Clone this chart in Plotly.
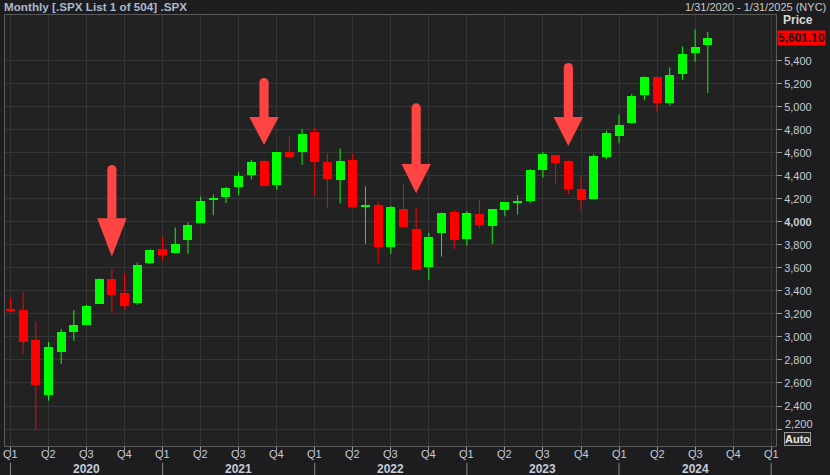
import plotly.graph_objects as go

# ---- data (monthly S&P 500 candles, Jan 2020 .. Aug 2024) ----
months = ["2020-01","2020-02","2020-03","2020-04","2020-05","2020-06","2020-07","2020-08","2020-09","2020-10","2020-11","2020-12",
          "2021-01","2021-02","2021-03","2021-04","2021-05","2021-06","2021-07","2021-08","2021-09","2021-10","2021-11","2021-12",
          "2022-01","2022-02","2022-03","2022-04","2022-05","2022-06","2022-07","2022-08","2022-09","2022-10","2022-11","2022-12",
          "2023-01","2023-02","2023-03","2023-04","2023-05","2023-06","2023-07","2023-08","2023-09","2023-10","2023-11","2023-12",
          "2024-01","2024-02","2024-03","2024-04","2024-05","2024-06","2024-07","2024-08"]
opens = [3244.7,3235.7,2974.3,2498.1,2869.1,3038.8,3105.9,3288.3,3507.4,3385.9,3296.2,3645.9,
         3764.6,3731.2,3842.5,3992.8,4192.0,4216.5,4300.7,4406.9,4528.8,4317.2,4610.6,4602.8,
         4778.1,4519.6,4363.1,4540.3,4130.6,4149.8,3781.0,4112.4,3936.7,3609.8,3901.8,4087.1,
         3853.3,4070.1,3963.3,4102.2,4166.8,4183.0,4450.5,4578.8,4530.6,4284.5,4201.3,4559.4,
         4745.2,4861.1,5098.5,5258.0,5029.0,5283.4,5471.1,5537.8]
highs = [3337.8,3393.5,3136.7,2954.9,3068.7,3233.1,3280.0,3509.2,3588.1,3549.9,3646.0,3760.2,
         3870.9,3950.4,3994.4,4218.8,4238.0,4302.4,4430.0,4537.4,4545.9,4608.1,4743.8,4808.9,
         4818.6,4595.3,4637.3,4593.5,4307.7,4177.5,4140.2,4325.3,4119.3,3905.4,4080.1,4101.0,
         4094.2,4195.4,4110.8,4170.1,4231.1,4458.5,4607.1,4584.6,4541.3,4393.6,4587.6,4793.3,
         4931.1,5111.1,5264.9,5264.0,5341.9,5523.6,5669.7,5651.6]
lows = [3214.6,2855.8,2191.9,2447.5,2766.6,2965.7,3101.2,3284.5,3209.5,3233.9,3279.7,3633.4,
        3662.7,3725.6,3723.3,3992.8,4056.9,4164.4,4233.1,4367.7,4305.9,4278.9,4560.0,4495.1,
        4222.6,4114.7,4157.9,4124.3,3810.3,3636.9,3721.6,3954.5,3584.1,3491.6,3698.2,3764.5,
        3794.3,3943.1,3808.9,4048.3,4063.0,4166.2,4385.1,4335.3,4238.6,4103.8,4197.7,4546.5,
        4682.1,4853.5,5056.8,4953.6,5011.1,5234.3,5391.0,5119.3]
closes = [3225.5,2954.2,2584.6,2912.4,3044.3,3100.3,3271.1,3500.3,3363.0,3270.0,3621.6,3756.1,
          3714.2,3811.2,3972.9,4181.2,4204.1,4297.5,4395.3,4522.7,4307.5,4605.4,4567.0,4766.2,
          4515.6,4373.9,4530.4,4131.9,4132.2,3785.4,4130.3,3955.0,3585.6,3872.0,4080.1,3839.5,
          4076.6,3970.2,4109.3,4169.5,4179.8,4450.4,4589.0,4507.7,4288.1,4193.8,4567.8,4769.8,
          4845.7,5096.3,5254.4,5035.7,5277.5,5460.5,5522.3,5601.1]
last_price = 5601.10

price_ticks = list(range(2200, 5401, 200))
quarter_ticks = list(range(0, 61, 3))
quarter_labels = ["Q1", "Q2", "Q3", "Q4"]
years = ["2020", "2021", "2022", "2023", "2024"]

# arrow annotations: (month index, tip price, head-base price, shaft-top price)
arrows = [(8, 3697, 4031, 4494), (20, 4668, 4911, 5250), (32, 4248, 4502, 5030), (44, 4659, 4911, 5380)]

UP, DOWN = "#00ff00", "#ff0000"
BODY_W = 0.71

idx = list(range(len(months)))
fig = go.Figure()

for up, col in ((True, UP), (False, DOWN)):
    sel = [i for i in idx if (closes[i] >= opens[i]) == up]
    wx, wy = [], []
    for i in sel:
        wx += [i, i, None]
        wy += [lows[i], highs[i], None]
    fig.add_trace(go.Scatter(x=wx, y=wy, mode="lines", line=dict(color=col, width=1),
                             hoverinfo="skip", showlegend=False))
    base = [min(opens[i], closes[i]) for i in sel]
    hgt = [max(abs(closes[i] - opens[i]), 10) for i in sel]
    fig.add_trace(go.Bar(x=sel, y=hgt, base=base, width=BODY_W, marker=dict(color=col, line=dict(width=0)),
                         hoverinfo="skip", showlegend=False))

shapes = []
ARW = "#ff4444"
SHAFT_HW, HEAD_HW, CAP_R = 0.36, 1.16, 40
for (xi, tip, hb, top) in arrows:
    shapes.append(dict(type="path", xref="x", yref="y", line=dict(width=0), fillcolor=ARW,
                       path=f"M {xi-HEAD_HW} {hb} L {xi+HEAD_HW} {hb} L {xi} {tip} Z"))
    shapes.append(dict(type="rect", xref="x", yref="y", line=dict(width=0), fillcolor=ARW,
                       x0=xi-SHAFT_HW, x1=xi+SHAFT_HW, y0=hb-2, y1=top-CAP_R))
    shapes.append(dict(type="circle", xref="x", yref="y", line=dict(width=0), fillcolor=ARW,
                       x0=xi-SHAFT_HW, x1=xi+SHAFT_HW, y0=top-2*CAP_R, y1=top))

# year separators below x-axis
for k in range(len(years) + 1):
    shapes.append(dict(type="line", xref="x", yref="paper", x0=12*k, x1=12*k, y0=-0.039, y1=-0.07,
                       line=dict(color="#8a8a8a", width=1)))

FONT = "Liberation Sans, Arial, sans-serif"
TXT = "#c4ccd8"
annotations = []
for t in quarter_ticks:
    annotations.append(dict(x=t, xref="x", y=-0.0175, yref="paper", text=quarter_labels[(t // 3) % 4],
                            showarrow=False, font=dict(family=FONT, size=11, color=TXT), yanchor="middle"))
for k, yr in enumerate(years):
    annotations.append(dict(x=6 + 12*k, xref="x", y=-0.053, yref="paper", text=f"<b>{yr}</b>",
                            showarrow=False, font=dict(family=FONT, size=12, color=TXT), yanchor="middle"))
# lowest price label sits a little higher (above the Auto box), as in the source
annotations.append(dict(x=1.0, xref="paper", y=price_ticks[0], yref="y", yshift=5, xanchor="left",
                        yanchor="middle", xshift=7, text=f"{price_ticks[0]:,}", showarrow=False,
                        font=dict(family=FONT, size=11, color=TXT)))
annotations += [
    dict(x=0, xref="paper", y=1.019, yref="paper", xanchor="left", yanchor="middle", xshift=-3,
         text="<b>Monthly [.SPX List 1 of 504] .SPX</b>", showarrow=False,
         font=dict(family=FONT, size=11.7, color="#a9b9d0")),
    dict(x=1.0, xref="paper", y=1.019, yref="paper", xanchor="right", yanchor="middle", xshift=52,
         text="1/31/2020 - 1/31/2025 (NYC)", showarrow=False,
         font=dict(family=FONT, size=11, color="#c8c8c8")),
    dict(x=1.0, xref="paper", y=0.988, yref="paper", xanchor="left", yanchor="middle", xshift=5,
         text="<b>Price</b>", showarrow=False, font=dict(family=FONT, size=12, color="#d8d8d8")),
    dict(x=1.0, xref="paper", y=last_price, yref="y", xanchor="left", yanchor="middle", xshift=1,
         text=f"<b>{last_price:,.2f}</b>", showarrow=False, bgcolor="#ff0000", borderpad=0,
         font=dict(family=FONT, size=12, color="#1a0000")),
    dict(x=1.0, xref="paper", y=0.016, yref="paper", xanchor="left", yanchor="middle", xshift=8,
         text="<b>Auto</b>", showarrow=False, bgcolor="#262626", bordercolor="#9a9a9a", borderwidth=1,
         borderpad=0, font=dict(family=FONT, size=11, color="#e8e8e8")),
]

ytext = ["" if v == price_ticks[0] else (f"<b>{v:,}</b>" if v == 4000 else f"{v:,}") for v in price_ticks]

fig.update_layout(
    width=830, height=475,
    margin=dict(l=5, r=54, t=15, b=29),
    paper_bgcolor="#1d1d1f", plot_bgcolor="#222222",
    barmode="overlay", bargap=0,
    showlegend=False,
    shapes=shapes, annotations=annotations,
    xaxis=dict(range=[-0.43, 60.38], tickmode="array", tickvals=quarter_ticks, showticklabels=False,
               showgrid=True, gridcolor="#363636", gridwidth=1, zeroline=False,
               ticks="outside", ticklen=4, tickcolor="#9a9a9a",
               showline=True, mirror=True, linecolor="#5a5a5a", linewidth=1, fixedrange=True),
    yaxis=dict(range=[2052.5, 5797], side="right", tickmode="array", tickvals=price_ticks, ticktext=ytext,
               showgrid=True, gridcolor="#363636", gridwidth=1, zeroline=False,
               ticks="outside", ticklen=5, tickcolor="#9a9a9a",
               showline=True, mirror=True, linecolor="#5a5a5a", linewidth=1,
               tickfont=dict(family=FONT, size=11, color=TXT), fixedrange=True),
)

fig.write_html("out.html", config={"displayModeBar": False},
               post_script="document.body.style.margin='0';document.body.style.overflow='hidden';"
                           "document.documentElement.style.background='#1d1d1f';")
